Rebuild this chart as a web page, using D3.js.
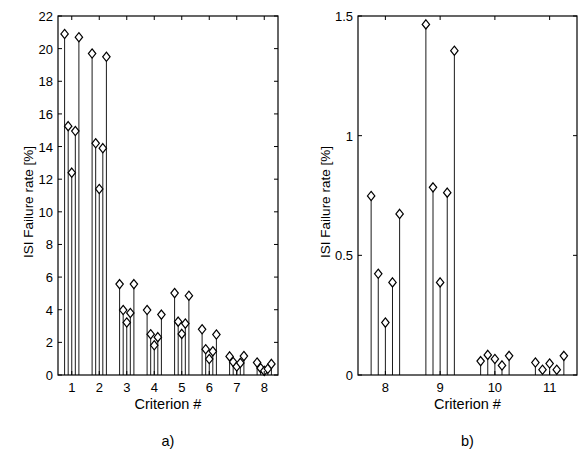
<!DOCTYPE html>
<html>
<head>
<meta charset="utf-8">
<style>
  body { margin:0; background:#fff; }
  svg { font-family: "Liberation Sans", Arial, sans-serif; }
  .frame { fill:none; stroke:#000; stroke-width:1.2px; }
  .tick line { stroke:#000; }
  .stem { stroke:#1a1a1a; stroke-width:1px; }
  .marker { fill:#fff; stroke:#000; stroke-width:1.2px; }
  .ticklabel { font-size:13px; fill:#000; }
  .label { font-size:14.5px; fill:#000; }
  .ylabel { font-size:13.5px; fill:#000; }
</style>
</head>
<body>
<svg width="579" height="451"></svg>
<script src="https://d3js.org/d3.v7.min.js"></script>
<script>
// panel a) criteria 1-8, five values each
var critA = [1, 2, 3, 4, 5, 6, 7, 8]
var ratesA = [
  [20.9, 15.25, 12.4, 14.95, 20.7],
  [19.7, 14.2, 11.4, 13.9, 19.5],
  [5.57, 3.98, 3.22, 3.8, 5.57],
  [3.98, 2.5, 1.82, 2.32, 3.7],
  [5.02, 3.27, 2.52, 3.15, 4.86],
  [2.8, 1.58, 0.98, 1.45, 2.48],
  [1.14, 0.8, 0.52, 0.74, 1.16],
  [0.76, 0.42, 0.25, 0.38, 0.68]
]
var yTicksA = [0, 2, 4, 6, 8, 10, 12, 14, 16, 18, 20, 22]

// panel b) criteria 8-11
var critB = [8, 9, 10, 11]
var ratesB = [
  [0.748, 0.423, 0.219, 0.387, 0.673],
  [1.465, 0.784, 0.387, 0.762, 1.355],
  [0.058, 0.084, 0.067, 0.040, 0.080],
  [0.052, 0.022, 0.048, 0.022, 0.080]
]
var yTicksB = [0, 0.5, 1, 1.5]
var yTickTextB = ["0", "0.5", "1", "1.5"]

var svg = d3.select("svg")
var offsets = [-0.26, -0.13, 0, 0.13, 0.26]
var tickLen = 4

function panel(opt) {
  var x = d3.scaleLinear().domain(opt.xDomain).range([opt.left, opt.right])
  var y = d3.scaleLinear().domain(opt.yDomain).range([opt.bottom, opt.top])
  var g = svg.append("g")

  // stems
  var pts = []
  opt.crit.forEach(function(c, i) {
    opt.rates[i].forEach(function(v, j) {
      pts.push({x: c + offsets[j], v: v})
    })
  })

  g.selectAll(".stem")
    .data(pts)
    .enter().append("line")
    .attr("class", "stem")
    .attr("x1", function(d) { return x(d.x) })
    .attr("x2", function(d) { return x(d.x) })
    .attr("y1", y(0))
    .attr("y2", function(d) { return y(d.v) })

  g.selectAll(".marker")
    .data(pts)
    .enter().append("path")
    .attr("class", "marker")
    .attr("transform", function(d) { return "translate(" + x(d.x) + "," + y(d.v) + ")" })
    .attr("d", "M0,-4.6L3.7,0L0,4.6L-3.7,0Z")

  // frame
  g.append("rect")
    .attr("class", "frame")
    .attr("x", opt.left).attr("y", opt.top)
    .attr("width", opt.right - opt.left)
    .attr("height", opt.bottom - opt.top)

  // inward ticks
  var ticks = g.append("g").attr("class", "tick")
  opt.yTicks.forEach(function(t) {
    ticks.append("line").attr("x1", opt.left).attr("x2", opt.left + tickLen).attr("y1", y(t)).attr("y2", y(t))
    ticks.append("line").attr("x1", opt.right).attr("x2", opt.right - tickLen).attr("y1", y(t)).attr("y2", y(t))
  })
  opt.crit.forEach(function(c) {
    ticks.append("line").attr("x1", x(c)).attr("x2", x(c)).attr("y1", opt.bottom).attr("y2", opt.bottom - tickLen)
    ticks.append("line").attr("x1", x(c)).attr("x2", x(c)).attr("y1", opt.top).attr("y2", opt.top + tickLen)
  })

  g.selectAll(".ylab")
    .data(opt.yTicks)
    .enter().append("text")
    .attr("class", "ticklabel")
    .attr("x", opt.left - 5)
    .attr("y", function(d) { return y(d) + 5 })
    .attr("text-anchor", "end")
    .text(function(d, i) { return opt.yText ? opt.yText[i] : d })

  g.selectAll(".xlab")
    .data(opt.crit)
    .enter().append("text")
    .attr("class", "ticklabel")
    .attr("x", function(d) { return x(d) })
    .attr("y", opt.bottom + 17)
    .attr("text-anchor", "middle")
    .text(function(d) { return d })

  var cx = (opt.left + opt.right) / 2
  g.append("text").attr("class", "label")
    .attr("x", cx).attr("y", opt.bottom + 34)
    .attr("text-anchor", "middle")
    .text("Criterion #")

  g.append("text").attr("class", "ylabel")
    .attr("transform", "translate(" + opt.yLabelX + ",202) rotate(-90)")
    .attr("text-anchor", "middle")
    .text("ISI Failure rate [%]")

  g.append("text").attr("class", "label")
    .attr("x", cx).attr("y", 446)
    .attr("text-anchor", "middle")
    .text(opt.caption)
}

panel({crit: critA, rates: ratesA, yTicks: yTicksA,
  xDomain: [0.5, 8.5], yDomain: [0, 22],
  left: 58, right: 278, top: 16, bottom: 375, yLabelX: 33, caption: "a)"})

panel({crit: critB, rates: ratesB, yTicks: yTicksB, yText: yTickTextB,
  xDomain: [7.5, 11.5], yDomain: [0, 1.5],
  left: 358, right: 577, top: 16, bottom: 375, yLabelX: 330, caption: "b)"})
</script>
</body>
</html>
